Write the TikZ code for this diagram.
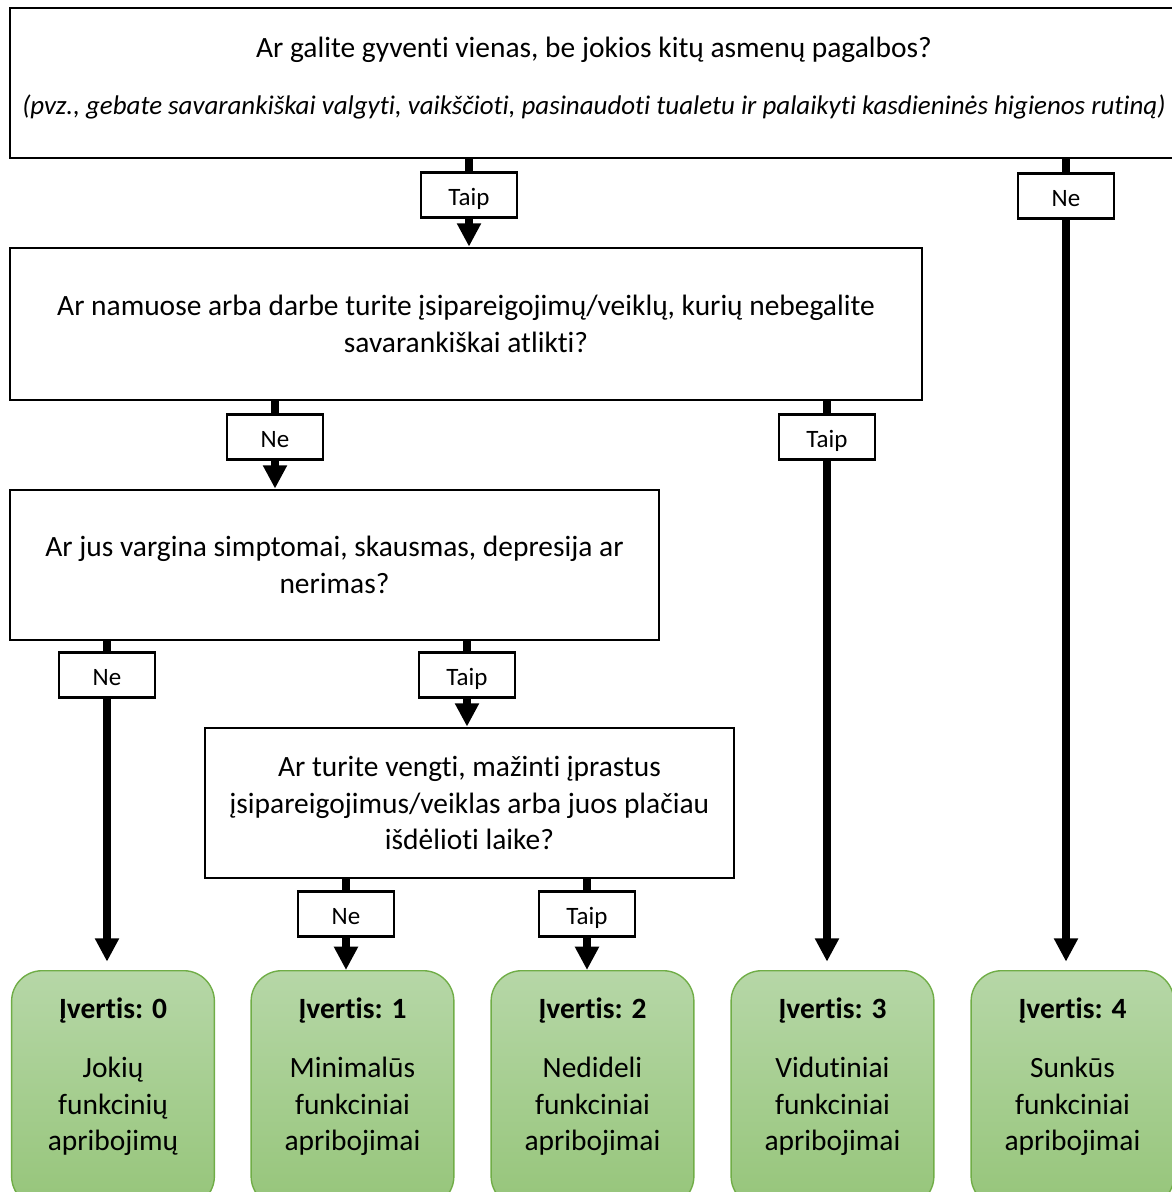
\documentclass[tikz,border=0pt]{standalone}
\usepackage{fontspec}
\setmainfont{Carlito}[Ligatures=NoCommon]
\usetikzlibrary{arrows.meta, positioning}
\definecolor{scoregreen}{RGB}{112, 173, 71}
\definecolor{scoretop}{RGB}{182, 215, 167}
\definecolor{scorebottom}{RGB}{150, 197, 122}

\begin{document}
\begin{tikzpicture}[
    x=0.36pt, y=-0.36pt,
    font=\fontsize{10.6}{13.3}\selectfont,
    question/.style={draw, line width=1pt, align=center, inner sep=0pt, minimum height=54pt},
    answer/.style={draw, line width=0.8pt, fill=white, inner sep=0pt,
        font=\fontsize{9}{11}\selectfont, text height=7.3pt, text depth=0pt,
        minimum width=34.6pt, minimum height=16.2pt},
    % Rounded result boxes with the green gradient
    score/.style={draw=scoregreen, line width=0.5pt, rounded corners=11pt,
        top color=scoretop, bottom color=scorebottom,
        minimum width=73pt, minimum height=85pt, anchor=north},
    score text/.style={align=center, inner sep=0pt},
    flow line/.style={line width=2.8pt},
    flow/.style={flow line, -{Triangle[length=8.4pt, width=8.2pt]}}
]

    % Page frame
    \useasboundingbox (0,0) rectangle (1172,1192);
    \clip (0,0) rectangle (1172,1192);

    % Questions
    \node[question, minimum width=420.5pt] (q_main) at (594,83)
        {Ar galite gyventi vienas, be jokios kitų asmenų pagalbos?\\[7.2pt]
         {\fontsize{9.7}{13.3}\selectfont\itshape (pvz., gebate savarankiškai valgyti, vaikščioti, pasinaudoti tualetu ir palaikyti kasdieninės higienos rutiną)}\rule[-5.5pt]{0pt}{5.5pt}};
    \node[question, minimum width=328.3pt, minimum height=54.7pt] (q_tasks) at (466,324)
        {Ar namuose arba darbe turite įsipareigojimų/veiklų, kurių nebegalite\\savarankiškai atlikti?};
    \node[question, minimum width=233.6pt] (q_symptoms) at (334.5,565)
        {Ar jus vargina simptomai, skausmas, depresija ar\\nerimas?};
    \node[question, minimum width=190.4pt] (q_avoid) at (469.5,803)
        {Ar turite vengti, mažinti įprastus\\įsipareigojimus/veiklas arba juos plačiau\\išdėlioti laike?};

    % Scores
    \node[score] (score_0) at (113,970) {};
    \node[score] (score_1) at (352.5,970) {};
    \node[score] (score_2) at (592.5,970) {};
    \node[score] (score_3) at (832.5,970) {};
    \node[score] (score_4) at (1072.5,970) {};

    \node[score text, below=9.7pt of score_0.north] (text_0)
        {\textbf{Įvertis: 0}\\[7.9pt]Jokių\\funkcinių\\apribojimų};
    \node[score text, below=9.7pt of score_1.north] (text_1)
        {\textbf{Įvertis: 1}\\[7.9pt]Minimalūs\\funkciniai\\apribojimai};
    \node[score text, below=9.7pt of score_2.north] (text_2)
        {\textbf{Įvertis: 2}\\[7.9pt]Nedideli\\funkciniai\\apribojimai};
    \node[score text, below=9.7pt of score_3.north] (text_3)
        {\textbf{Įvertis: 3}\\[7.9pt]Vidutiniai\\funkciniai\\apribojimai};
    \node[score text, below=9.7pt of score_4.north] (text_4)
        {\textbf{Įvertis: 4}\\[7.9pt]Sunkūs\\funkciniai\\apribojimai};

    % Answers
    \node[answer] (yes_main) at (469,195) {Taip};
    \node[answer] (no_main) at (1066,196) {Ne};
    \node[answer] (no_tasks) at (275,437) {Ne};
    \node[answer] (yes_tasks) at (827,437) {Taip};
    \node[answer] (no_symptoms) at (107,675) {Ne};
    \node[answer] (yes_symptoms) at (467,675) {Taip};
    \node[answer] (no_avoid) at (346,914) {Ne};
    \node[answer] (yes_avoid) at (587,914) {Taip};

    % Connectors from the first question
    \draw[flow line] (q_main.south -| yes_main) -- (yes_main);
    \draw[flow] (yes_main) -- (yes_main |- q_tasks.north);
    \draw[flow line] (q_main.south -| no_main) -- (no_main);
    \draw[flow, shorten >=3pt] (no_main) -- (no_main |- score_4.north);

    % Connectors from the second question
    \draw[flow line] (q_tasks.south -| no_tasks) -- (no_tasks);
    \draw[flow] (no_tasks) -- (no_tasks |- q_symptoms.north);
    \draw[flow line] (q_tasks.south -| yes_tasks) -- (yes_tasks);
    \draw[flow, shorten >=3pt] (yes_tasks) -- (yes_tasks |- score_3.north);

    % Connectors from the third question
    \draw[flow line] (q_symptoms.south -| no_symptoms) -- (no_symptoms);
    \draw[flow, shorten >=3pt] (no_symptoms) -- (no_symptoms |- score_0.north);
    \draw[flow line] (q_symptoms.south -| yes_symptoms) -- (yes_symptoms);
    \draw[flow] (yes_symptoms) -- (yes_symptoms |- q_avoid.north);

    % Connectors from the last question
    \draw[flow line] (q_avoid.south -| no_avoid) -- (no_avoid);
    \draw[flow] (no_avoid) -- (no_avoid |- score_1.north);
    \draw[flow line] (q_avoid.south -| yes_avoid) -- (yes_avoid);
    \draw[flow] (yes_avoid) -- (yes_avoid |- score_2.north);

\end{tikzpicture}
\end{document}
